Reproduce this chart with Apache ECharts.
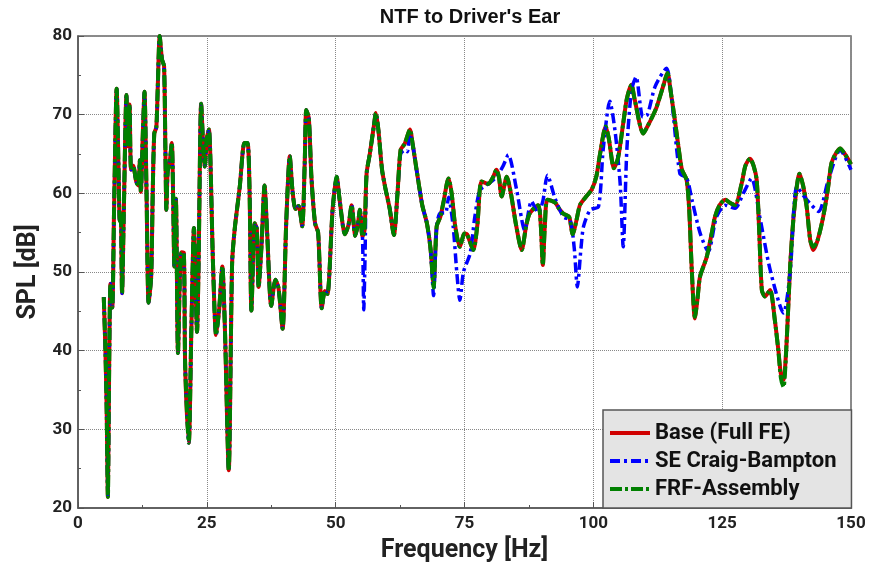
<!DOCTYPE html>
<html>
<head>
<meta charset="utf-8">
<script src="https://cdn.jsdelivr.net/npm/echarts@6/dist/echarts.min.js"></script>
<style>
  html, body { margin: 0; padding: 0; background: #fff; }
  #chart { width: 879px; height: 569px; }
</style>
</head>
<body>
<div id="chart"></div>
<script>
// 5 - 55 Hz: all three models lie on top of each other
const lowFreq = [5.0, 5.3, 5.55, 5.8, 6.05, 6.3, 6.65, 7.0, 7.5, 7.9, 8.1, 8.3, 8.55, 8.9, 9.4, 9.7, 10.0, 10.3, 10.7, 11.3,
  11.7, 12.0, 12.2, 12.6, 12.9, 13.3, 13.7, 14.2, 14.5, 14.8, 15.2, 15.5, 15.85, 16.3, 16.7, 16.95, 17.15, 17.4, 17.8, 18.2,
  18.45, 18.7, 19.0, 19.4, 19.8, 20.1, 20.55, 20.8, 21.5, 22.0, 22.5, 23.1, 23.4, 23.9, 24.3, 24.6, 25.0, 25.4, 26.2, 26.8,
  27.4, 28.0, 28.5, 29.25, 29.9, 30.4, 31.4, 32.3, 32.9, 33.3, 33.65, 34.3, 34.7, 35.05, 35.6, 36.2, 36.7, 37.5, 38.3, 38.9,
  39.7, 40.4, 41.1, 41.6, 42.2, 42.8, 43.5, 44.0, 44.3, 44.8, 45.3, 46.0, 46.6, 47.3, 47.9, 48.4, 49.4, 50.2, 50.8, 51.8,
  52.5, 53.1, 53.8, 54.3, 54.7];
const lowSpl = [46.8, 40.5, 33, 21.4, 38, 48.5, 45.5, 58, 73.3, 62, 56.5, 57.5, 47.3, 58, 72.5, 66, 71.3, 63, 63.5, 61.5,
  61, 64.2, 60.2, 68, 72.9, 60, 46.1, 49.4, 60, 67.6, 68.4, 74, 80, 77, 76.2, 66, 57.9, 62.8, 64, 66.4,
  60, 50.7, 59.3, 39.7, 50, 52.5, 52.4, 38, 28.3, 42.8, 55.6, 42.4, 51, 71.4, 66, 63.4, 67, 68.1, 51, 42,
  45.3, 50.7, 43, 24.8, 51, 55.4, 60.9, 66.4, 66.4, 60, 45.1, 56.2, 55.5, 48.1, 53.2, 61, 55, 45.7, 49.0, 48,
  42.8, 56.2, 64.7, 60.5, 58, 58.4, 55.8, 64, 70.6, 69.5, 62, 56.2, 55, 45.4, 47.6, 47.2, 57.9, 62.1, 59, 54.8,
  56, 58.5, 54.6, 56, 57.9];

// 55 - 150 Hz: Base (Full FE) and FRF-Assembly
const hiFreq = [55.2, 55.6, 56.0, 56.6, 57.4, 57.8, 58.3, 59.0, 59.6, 60.5, 61.3, 62.0, 62.6, 63.4, 64.4, 65.0, 65.7, 66.8, 67.7, 68.4,
  69.0, 69.6, 70.3, 70.9, 71.9, 72.5, 73.2, 74.1, 75.0, 75.5, 76.7, 77.5, 78.3, 79.6, 80.5, 81.2, 81.7, 82.2, 83.2, 84.0,
  85.0, 86.1, 87.0, 87.7, 89.3, 89.8, 90.2, 90.6, 91.1, 92.6, 93.4, 94.2, 95.3, 96.0, 96.7, 97.4, 98.5, 99.7, 100.6, 101.3,
  102.4, 103.0, 104.0, 104.8, 105.8, 106.5, 107.4, 108.0, 109.7, 110.5, 111.5, 112.3, 113.5, 114.4, 115.0, 115.8, 116.5, 117.2, 118.1, 118.6,
  119.1, 119.7, 120.2, 120.7, 122.0, 123.0, 123.6, 124.5, 125.6, 126.5, 127.5, 128.8, 129.5, 130.4, 131.1, 131.7, 132.2, 132.7, 133.3, 134.3,
  135.2, 135.9, 136.4, 136.9, 137.5, 138.2, 139.0, 140.0, 140.7, 141.4, 142.1, 142.7, 143.5, 144.6, 145.5, 146.2, 147.0, 147.9, 148.8, 150.0];
const baseSplHi = [54.5, 55.3, 62.5, 64.9, 68.5, 70.2, 68, 63, 60.8, 58, 54.7, 60, 65.5, 66.3, 68.1, 66, 63, 58.5, 56.2, 53,
  48.5, 55.8, 57, 58.8, 61.9, 60, 55.8, 53.2, 54.9, 54.8, 52.8, 56, 61.5, 61.2, 62, 63.0, 62, 59.6, 62.1, 60,
  56, 52.8, 56, 57.5, 58.5, 56, 50.9, 56, 59.2, 58.8, 58, 57.4, 57, 54.8, 56.5, 58.5, 59.5, 60.5, 62.2, 65,
  68.5, 67, 63.2, 64.5, 68.9, 72, 73.8, 72, 67.6, 68.5, 69.8, 71.0, 73.5, 75.3, 73, 69.4, 66, 63.0, 61.7, 58,
  50.3, 44.1, 46.5, 49.4, 51.9, 55, 57.0, 58.5, 59.2, 58.8, 58.5, 61.3, 63.5, 64.4, 63.5, 61.7, 55, 47.7, 46.9, 47.7,
  44, 40.1, 37, 36.3, 41, 50.8, 58, 62.5, 61, 58.3, 54, 52.8, 54, 57.0, 60.5, 63.8, 65, 65.7, 65, 63.7];
const frfSplHi = [54.5, 55.3, 62.5, 64.9, 68.5, 70.2, 68, 63, 60.8, 58, 54.7, 60, 65.5, 66.3, 68.1, 66, 63, 58.5, 56.2, 53,
  48, 55.8, 57, 58.8, 61.9, 60, 55.8, 53.2, 54.9, 54.8, 52.8, 56, 61.5, 61.2, 62, 63.0, 62, 59.6, 62.1, 60,
  56, 52.8, 56, 57.5, 58.5, 56, 50.9, 56, 59.2, 58.8, 58, 57.4, 57, 54.8, 56.5, 58.5, 59.5, 60.5, 62.2, 65,
  68.5, 67, 63.2, 64.5, 68.9, 72, 73.8, 72, 67.6, 68.5, 69.8, 71.0, 73.5, 75.3, 73, 69.4, 66, 63.0, 61.7, 58,
  50.3, 44.3, 46.5, 49.4, 51.9, 55, 57.0, 58.5, 59.2, 58.8, 58.5, 61.3, 63.5, 64.4, 63.5, 61.7, 55, 47.7, 46.9, 47.7,
  44, 40, 36.5, 35.4, 41, 50.8, 58, 62.5, 61, 58.3, 54, 53.2, 54, 57.0, 60.5, 63.8, 65, 65.7, 65, 63.7];

// 55 - 150 Hz: SE Craig-Bampton
const seFreqHi = [55.2, 55.45, 55.7, 56.0, 56.6, 57.4, 57.8, 58.3, 59.0, 59.6, 60.5, 61.3, 62.0, 62.6, 63.4, 63.9, 64.4, 65.0, 65.7, 66.8,
  67.7, 68.4, 69.0, 69.6, 70.3, 71.3, 71.9, 72.8, 73.5, 74.1, 74.8, 76.1, 77.0, 78.0, 79.6, 81.2, 82.5, 83.5, 85.1, 86.7,
  88.0, 89.3, 90.2, 91.1, 92.6, 94.2, 95.5, 96.3, 96.9, 97.6, 98.1, 99.4, 101.0, 101.9, 103.2, 104.2, 105.2, 105.8, 106.5, 107.4,
  108.3, 109.6, 110.5, 112.0, 114.2, 115.2, 116.8, 118.1, 119.2, 120.7, 122.3, 123.9, 125.6, 127.5, 129.1, 130.7, 132.3, 134.3, 136.9, 138.2,
  139.5, 141.4, 143.7, 145.6, 147.9, 150.0];
const seSplHi = [54.5, 45.2, 52, 62.5, 64.9, 68.5, 70.2, 68, 63, 60.8, 58, 54.7, 60, 65, 65.5, 65.3, 67.5, 66, 63, 58.5,
  56.2, 53, 47, 55.8, 57.5, 57.5, 59.5, 55.8, 50, 46.4, 50, 52.4, 57, 60.4, 61.2, 62.1, 63.5, 64.9, 60.5, 55.3,
  59.0, 57.5, 59, 62.3, 59.3, 57.0, 56.6, 53, 48.1, 53, 55.8, 57.9, 58.3, 65.5, 71.7, 68, 61.3, 53.2, 65.5, 73.1,
  74.8, 69.7, 70, 73.6, 75.9, 72, 62.5, 62, 59, 55, 52.6, 57.0, 58.5, 58.1, 60, 61.9, 57.0, 50.3, 44.8, 50,
  60.8, 59.2, 57.7, 61.7, 65.5, 63];

const seriesNames = ['Base (Full FE)', 'SE Craig-Bampton', 'FRF-Assembly'];
const xTicks = [0, 25, 50, 75, 100, 125, 150];
const yTicks = [20, 30, 40, 50, 60, 70, 80];

const pairs = (xs, ys) => xs.map((x, i) => [x, ys[i]]);
const lowPart = pairs(lowFreq, lowSpl);
const baseData = lowPart.concat(pairs(hiFreq, baseSplHi));
const seData = lowPart.concat(pairs(seFreqHi, seSplHi));
const frfData = lowPart.concat(pairs(hiFreq, frfSplHi));

const font = 'Roboto, "DejaVu Sans", sans-serif';

const chart = echarts.init(document.getElementById('chart'), null, { renderer: 'canvas' });
const option = {
  animation: false,
  backgroundColor: '#fff',
  title: {
    text: "NTF to Driver's Ear",
    left: 465,
    textAlign: 'center',
    top: 2,
    textStyle: { fontFamily: '"Liberation Sans Narrow", "Liberation Sans", sans-serif', fontWeight: 'bold', fontSize: 20, color: '#111' },
  },
  grid: {
    left: 78, right: 28, top: 36, bottom: 61,
    show: true, borderColor: '#666', borderWidth: 1.5, backgroundColor: '#fff',
  },
  legend: {
    orient: 'vertical',
    left: 603,
    top: 410,
    data: seriesNames,
    itemWidth: 40,
    itemHeight: 14,
    itemGap: 6,
    padding: [12, 15, 8, 5],
    backgroundColor: '#e4e4e4',
    borderColor: '#555',
    borderWidth: 1.5,
    borderRadius: 0,
    itemStyle: { opacity: 0, borderWidth: 0 },
    lineStyle: { width: 4 },
    textStyle: { fontFamily: font, fontWeight: 'bold', fontSize: 22, color: '#111' },
  },
  xAxis: {
    type: 'value',
    min: xTicks[0],
    max: xTicks[xTicks.length - 1],
    interval: 25,
    name: 'Frequency [Hz]',
    nameLocation: 'middle',
    nameGap: 30,
    nameTextStyle: { fontFamily: font, fontWeight: 'bold', fontSize: 25, color: '#222' },
    axisLine: { show: true, lineStyle: { color: '#555', width: 1.5 } },
    axisTick: { show: true, inside: true, length: 6, lineStyle: { color: '#555' } },
    minorTick: { show: true, splitNumber: 2, length: 3, lineStyle: { color: '#555' } },
    axisLabel: { fontFamily: font, fontWeight: 'bold', fontSize: 17, color: '#222', margin: 7 },
    splitLine: { show: true, lineStyle: { type: 'dotted', color: '#888', width: 1 } },
  },
  yAxis: {
    type: 'value',
    min: yTicks[0],
    max: yTicks[yTicks.length - 1],
    interval: 10,
    name: 'SPL [dB]',
    nameLocation: 'middle',
    nameGap: 34,
    nameTextStyle: { fontFamily: font, fontWeight: 'bold', fontSize: 25, color: '#222' },
    axisLine: { show: true, lineStyle: { color: '#555', width: 1.5 } },
    axisTick: { show: true, inside: true, length: 6, lineStyle: { color: '#555' } },
    minorTick: { show: true, splitNumber: 2, length: 3, lineStyle: { color: '#555' } },
    axisLabel: { fontFamily: font, fontWeight: 'bold', fontSize: 17, color: '#222', margin: 6 },
    splitLine: { show: true, lineStyle: { type: 'dotted', color: '#888', width: 1 } },
  },
  series: [
    {
      name: seriesNames[0],
      type: 'line',
      data: baseData,
      symbol: 'none',
      smooth: 0.25,
      lineStyle: { color: '#d00000', width: 4 },
      itemStyle: { color: '#d00000' },
    },
    {
      name: seriesNames[1],
      type: 'line',
      data: seData,
      symbol: 'none',
      smooth: 0.25,
      lineStyle: { color: '#0000ff', width: 3.5, type: [10, 4, 3, 4] },
      itemStyle: { color: '#0000ff' },
    },
    {
      name: seriesNames[2],
      type: 'line',
      data: frfData,
      symbol: 'none',
      smooth: 0.25,
      lineStyle: { color: '#008000', width: 4, type: [12, 3, 3, 3] },
      itemStyle: { color: '#008000' },
    },
  ],
};
chart.setOption(option);
</script>
</body>
</html>
